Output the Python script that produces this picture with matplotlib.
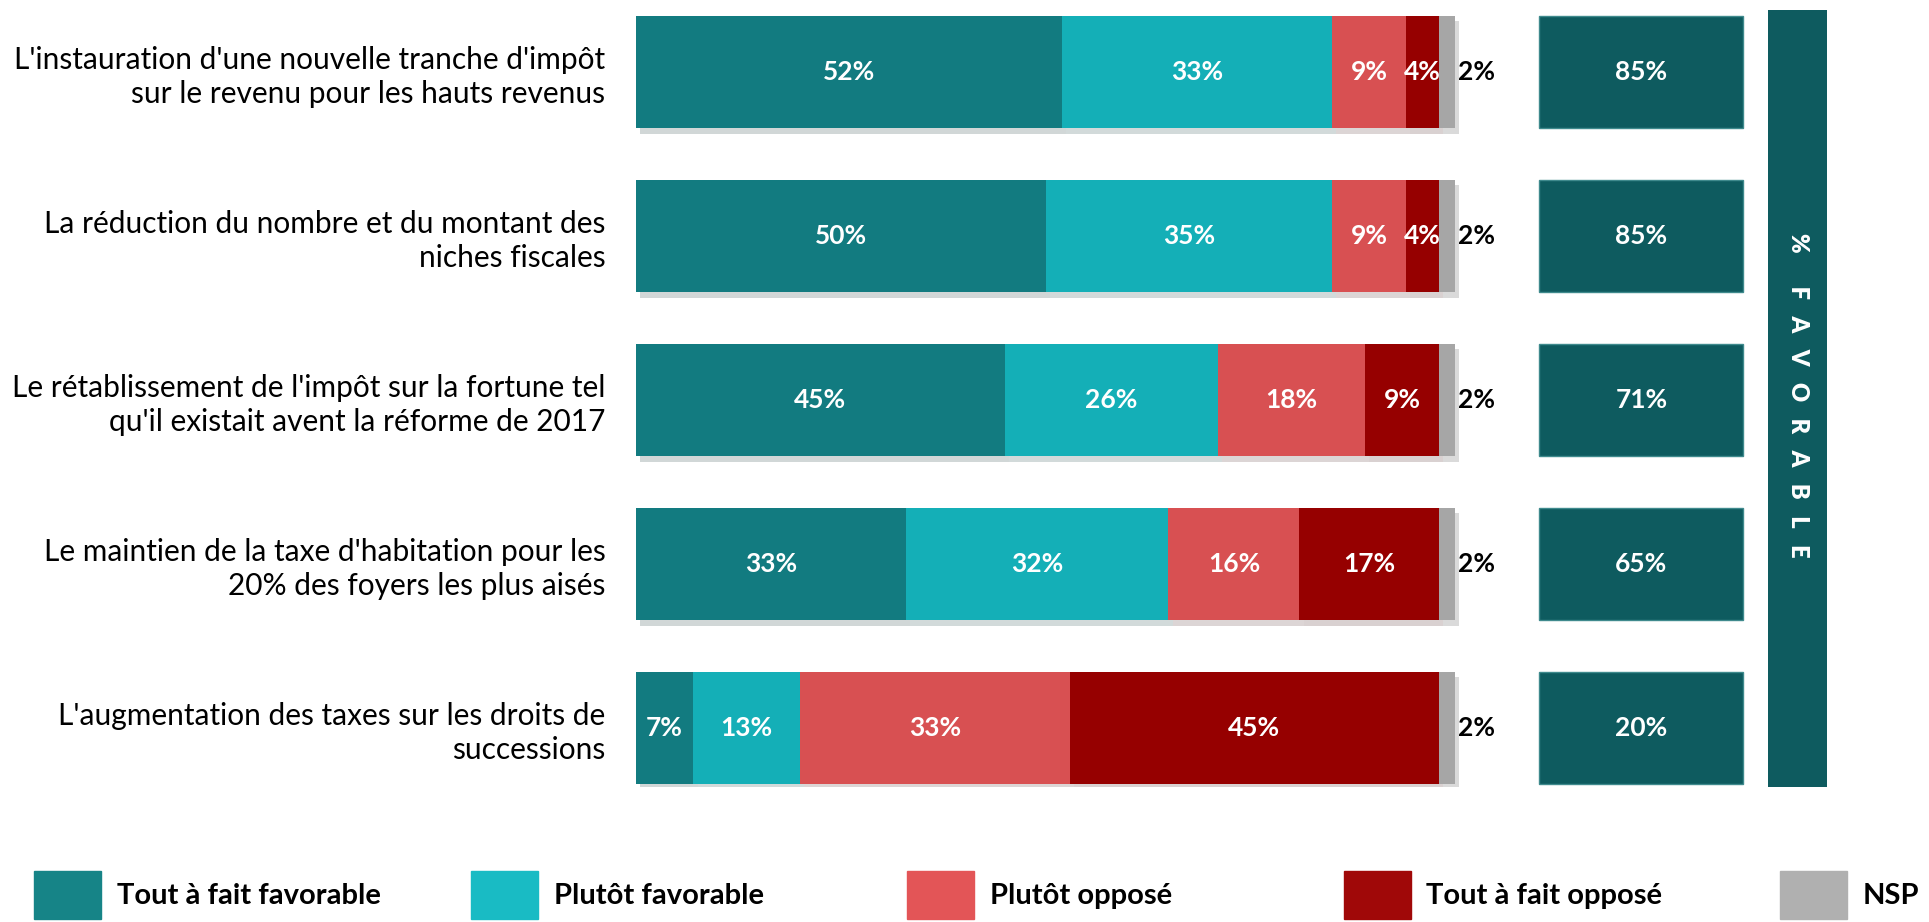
import matplotlib.pyplot as plt
import matplotlib.patheffects as pe
from matplotlib.patches import Rectangle

plt.rcParams['font.family'] = ['Lato', 'DejaVu Sans']

questions = [
    "L'instauration d'une nouvelle tranche d'impôt\nsur le revenu pour les hauts revenus",
    "La réduction du nombre et du montant des\nniches fiscales",
    "Le rétablissement de l'impôt sur la fortune tel\nqu'il existait avent la réforme de 2017",
    "Le maintien de la taxe d'habitation pour les\n20% des foyers les plus aisés",
    "L'augmentation des taxes sur les droits de\nsuccessions",
]
categories = ["Tout à fait favorable", "Plutôt favorable", "Plutôt opposé",
              "Tout à fait opposé", "NSP"]
tout_favorable = [52, 50, 45, 33, 7]
plutot_favorable = [33, 35, 26, 32, 13]
plutot_oppose = [9, 9, 18, 16, 33]
tout_oppose = [4, 4, 9, 17, 45]
nsp = [2, 2, 2, 2, 2]
total_favorable = [85, 85, 71, 65, 20]

series = [tout_favorable, plutot_favorable, plutot_oppose, tout_oppose, nsp]
bar_colors = ['#127B80', '#14AFB7', '#D85052', '#960000', '#A6A6A6']
legend_colors = ['#168487', '#19BBC4', '#E35557', '#A00808', '#B0B0B0']
dark = '#0E5B5F'

fig = plt.figure(figsize=(19.29, 9.22), dpi=100)
ax = fig.add_axes([636 / 1929, 135 / 922, 1191 / 1929, 777 / 922])

rows = list(range(len(questions)))
shadow = [pe.SimplePatchShadow(offset=(3, -4), alpha=0.18), pe.Normal()]
left = [0] * len(rows)
for k, (vals, col) in enumerate(zip(series, bar_colors)):
    bars = ax.barh(rows, vals, left=left, height=0.685, color=col, linewidth=0)
    for b in bars:
        b.set_path_effects(shadow)
    for r, v, l in zip(rows, vals, left):
        if k < 4:
            ax.text(l + v / 2, r, f"{v}%", ha='center', va='center',
                    color='white', fontsize=19, fontweight='bold')
        else:
            ax.text(l + v + 0.3, r, f"{v}%", ha='left', va='center',
                    color='black', fontsize=19, fontweight='bold')
    left = [a + b for a, b in zip(left, vals)]

# total favorable boxes
box_left, box_w = 110.3, 24.9
ax.barh(rows, [box_w] * len(rows), left=box_left, height=0.685, color=dark,
        edgecolor='#3F8A8D', linewidth=1)
for r, v in zip(rows, total_favorable):
    ax.text(box_left + box_w / 2, r, f"{v}%", ha='center', va='center',
            color='white', fontsize=19, fontweight='bold')

# vertical banner
ax.bar(138.2, 4.74, bottom=-0.378, width=7.2, align='edge', color=dark, linewidth=0)
ax.text(138.2 + 3.6, 1.97, "%      F   A   V   O   R   A   B   L   E", rotation=270,
        ha='center', va='center', color='white', fontsize=17, fontweight='heavy')

ax.set_xlim(0, 145.4)
ax.set_ylim(4.36, -0.378)
ax.set_yticks(rows, questions, fontsize=21.5, linespacing=1.22)
ax.tick_params(axis='y', length=0, pad=22)
ax.set_xticks([])
for s in ax.spines.values():
    s.set_visible(False)

# legend
lax = fig.add_axes([0, 0, 1, 1])
lax.set_xlim(0, 1929)
lax.set_ylim(0, 922)
lax.axis('off')
for i, (name, col) in enumerate(zip(categories, legend_colors)):
    x0 = 34 + i * 436.5
    lax.add_patch(Rectangle((x0, 3), 67, 48, color=col))
    lax.text(x0 + 83, 26, name, ha='left', va='center', fontsize=21,
             fontweight='bold', color='black')

fig.savefig('out.png', dpi=100)
